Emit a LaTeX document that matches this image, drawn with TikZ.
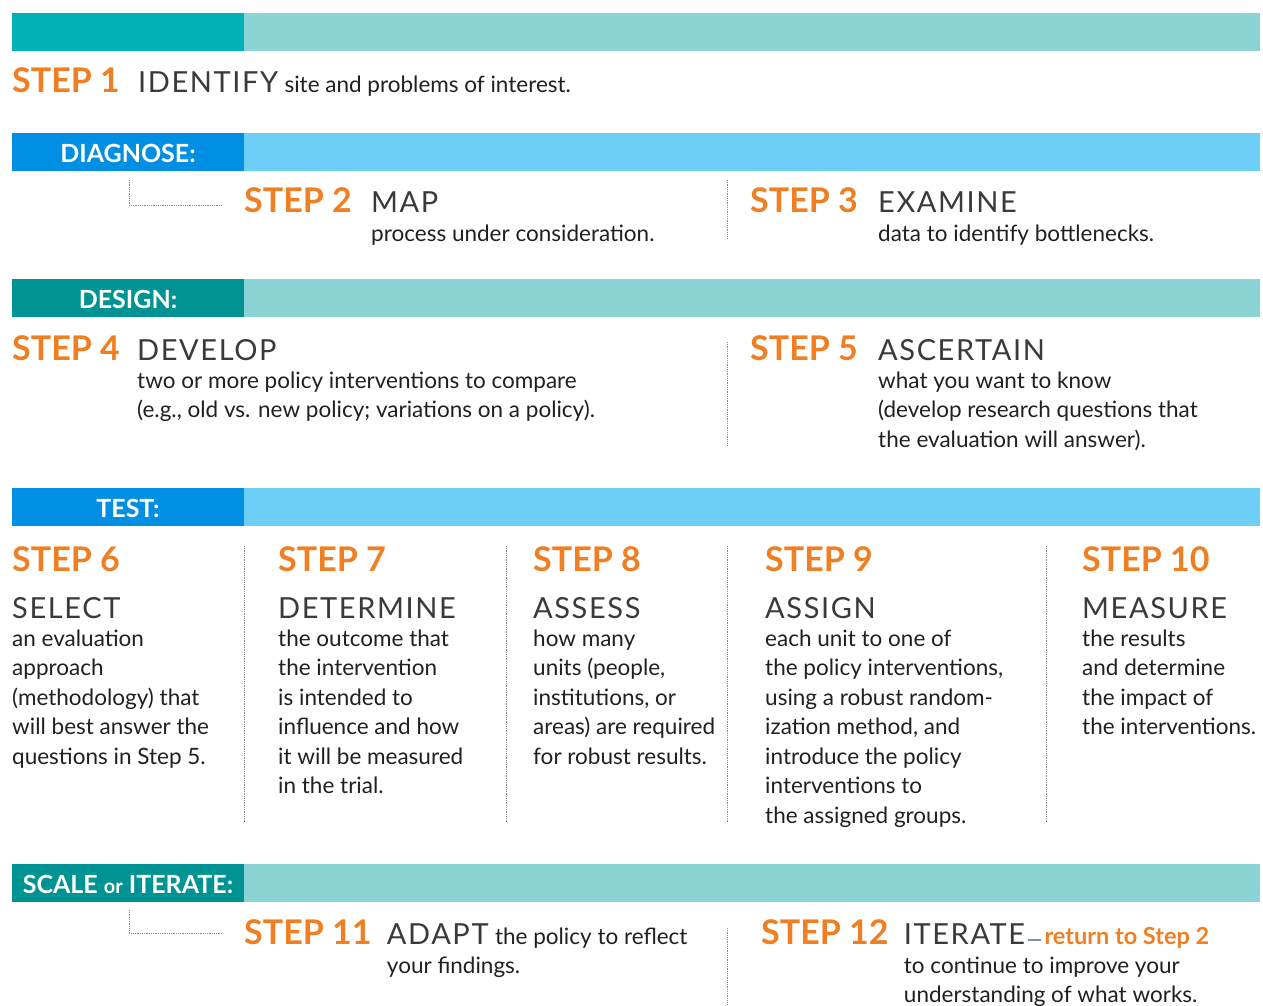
\documentclass[tikz,border=0pt]{standalone}
\usepackage{fontspec}
\setmainfont{Lato}
\usetikzlibrary{positioning}

\definecolor{tealA}{HTML}{00B1B6}
\definecolor{tealB}{HTML}{009393}
\definecolor{tealL}{HTML}{8BD3D5}
\definecolor{blueD}{HTML}{008FE3}
\definecolor{blueL}{HTML}{6DCFF6}
\definecolor{steporange}{HTML}{EF7F22}
\definecolor{ink}{HTML}{231F20}
\definecolor{verbink}{HTML}{3A3A3C}
\definecolor{dotgrey}{HTML}{8A8A8A}
\definecolor{dashgrey}{HTML}{7A909C}

\tikzset{
  steptitle/.style={font=\bfseries\fontsize{34}{34}\selectfont, text=steporange, inner sep=0pt, anchor=base west},
  verbtext/.style={font=\fontsize{29}{29}\selectfont\addfontfeature{LetterSpace=5.5}, text=verbink, inner sep=0pt, anchor=base west},
  bodytext/.style={font=\fontsize{22.5}{29.5}\selectfont, text=ink, inner sep=0pt, align=left, anchor=base west},
  barlabel/.style={font=\bfseries\fontsize{25}{25}\selectfont, text=white, inner sep=0pt, anchor=base},
  dotline/.style={draw=dotgrey, densely dotted, line width=0.8pt},
}

\begin{document}
\begin{tikzpicture}[x=1pt, y=-1pt]
  \useasboundingbox (0,0) rectangle (1263,1005);

  % bars
  \foreach \ytop/\dark/\light/\name/\txt in {
      13/tealA/tealL/bar1/{},
      133/blueD/blueL/bar2/{DIAGNOSE:},
      279/tealB/tealL/bar3/{DESIGN:},
      488/blueD/blueL/bar4/{TEST:},
      864/tealB/tealL/bar5/{SCALE {\fontsize{20}{20}\selectfont or} ITERATE:}} {
    \fill[\dark] (12,\ytop) rectangle (244,\ytop+38);
    \fill[\light] (244,\ytop) rectangle (1260,\ytop+38);
    \node[barlabel] (\name) at (128,\ytop+29) {\txt};
  }

  % STEP 1
  \node[steptitle] (s1) at (12,92) {STEP 1};
  \node[verbtext, right=18pt of s1.base east, anchor=base west] (v1) {IDENTIFY};
  \node[bodytext, right=6pt of v1.base east, anchor=base west] (t1) {site and problems of interest.};

  % DIAGNOSE
  \coordinate (c2a) at (129,180);
  \coordinate (c2b) at (129,205);
  \coordinate (c2c) at (222,205);
  \draw[dotline] (c2a) -- (c2b) -- (c2c);
  \node[steptitle] (s2) at (244,212) {STEP 2};
  \node[verbtext, right=19pt of s2.base east, anchor=base west] (v2) {MAP};
  \node[bodytext] (t2) at ([yshift=-29pt]v2.base west) {process under consideration.};

  \coordinate (d3a) at (727,180);
  \coordinate (d3b) at (727,238);
  \draw[dotline] (d3a) -- (d3b);
  \node[steptitle] (s3) at (750,212) {STEP 3};
  \node[verbtext, right=20pt of s3.base east, anchor=base west] (v3) {EXAMINE};
  \node[bodytext] (t3) at ([yshift=-29pt]v3.base west) {data to identify bottlenecks.};

  % DESIGN
  \node[steptitle] (s4) at (12,360) {STEP 4};
  \node[verbtext, right=17pt of s4.base east, anchor=base west] (v4) {DEVELOP};
  \node[bodytext] (t4) at ([yshift=-57.5pt]v4.base west)
    {two or more policy interventions to compare\\(e.g., old vs. new policy; variations on a policy).};

  \coordinate (d5a) at (727,342);
  \coordinate (d5b) at (727,445);
  \draw[dotline] (d5a) -- (d5b);
  \node[steptitle] (s5) at (750,360) {STEP 5};
  \node[verbtext, right=20pt of s5.base east, anchor=base west] (v5) {ASCERTAIN};
  \node[bodytext] (t5) at ([yshift=-87pt]v5.base west)
    {what you want to know\\(develop research questions that\\the evaluation will answer).};

  % TEST
  \foreach \xd in {244,506,727,1046} {
    \coordinate (top\xd) at (\xd,546);
    \coordinate (bot\xd) at (\xd,822);
    \draw[dotline] (top\xd) -- (bot\xd);
  }
  \node[steptitle] (s6) at (12,571) {STEP 6};
  \node[verbtext] (v6) at (12,618) {SELECT};
  \node[bodytext] (t6) at ([yshift=-146pt]v6.base west)
    {an evaluation\\approach\\(methodology) that\\will best answer the\\questions in Step 5.};

  \node[steptitle] (s7) at (278,571) {STEP 7};
  \node[verbtext] (v7) at (278,618) {DETERMINE};
  \node[bodytext] (t7) at ([yshift=-175.5pt]v7.base west)
    {the outcome that\\the intervention\\is intended to\\influence and how\\it will be measured\\in the trial.};

  \node[steptitle] (s8) at (533,571) {STEP 8};
  \node[verbtext] (v8) at (533,618) {ASSESS};
  \node[bodytext] (t8) at ([yshift=-146pt]v8.base west)
    {how many\\units (people,\\institutions, or\\areas) are required\\for robust results.};

  \node[steptitle] (s9) at (765,571) {STEP 9};
  \node[verbtext] (v9) at (765,618) {ASSIGN};
  \node[bodytext] (t9) at ([yshift=-205pt]v9.base west)
    {each unit to one of\\the policy interventions,\\using a robust random-\\ization method, and\\introduce the policy\\interventions to\\the assigned groups.};

  \node[steptitle] (s10) at (1082,571) {STEP 10};
  \node[verbtext] (v10) at (1082,618) {MEASURE};
  \node[bodytext] (t10) at ([yshift=-116.5pt]v10.base west)
    {the results\\and determine\\the impact of\\the interventions.};

  % SCALE or ITERATE
  \coordinate (c11a) at (129,910);
  \coordinate (c11b) at (129,933);
  \coordinate (c11c) at (222,933);
  \draw[dotline] (c11a) -- (c11b) -- (c11c);
  \node[steptitle] (s11) at (244,944) {STEP 11};
  \node[verbtext, right=15pt of s11.base east, anchor=base west] (v11) {ADAPT};
  \node[bodytext, right=6pt of v11.base east, anchor=base west] (t11a) {the policy to reflect};
  \node[bodytext] (t11b) at ([yshift=-29pt]v11.base west) {your findings.};

  \coordinate (d12a) at (727,928);
  \coordinate (d12b) at (727,1005);
  \draw[dotline] (d12a) -- (d12b);
  \node[steptitle] (s12) at (761,944) {STEP 12};
  \node[verbtext, right=15pt of s12.base east, anchor=base west] (v12) {ITERATE};
  \coordinate (dsa) at ([xshift=3pt, yshift=4pt]v12.base east);
  \coordinate (dsb) at ([xshift=16pt, yshift=4pt]v12.base east);
  \draw[dashgrey, line width=1.2pt] (dsa) -- (dsb);
  \node[font=\bfseries\fontsize{23.5}{23.5}\selectfont, text=steporange, inner sep=0pt,
        anchor=base west] (r12) at ([xshift=3pt, yshift=-4pt]dsb) {return to Step 2};
  \node[bodytext] (t12) at ([yshift=-58.5pt]v12.base west)
    {to continue to improve your\\understanding of what works.};
\end{tikzpicture}
\end{document}
